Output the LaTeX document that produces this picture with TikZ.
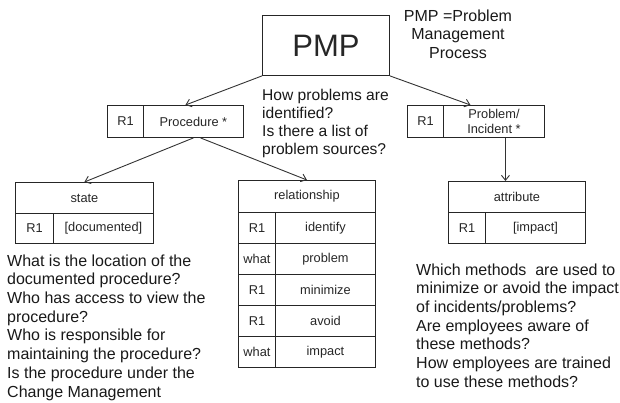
\documentclass[tikz,border=0pt]{standalone}
\usepackage{fontspec}
\setmainfont{Liberation Sans}
\usetikzlibrary{arrows.meta}
\begin{document}
\begin{tikzpicture}[x=1pt,y=-1pt,
  cell/.style={draw=black!85, line width=0.9pt, inner sep=0pt, anchor=north west,
    font=\fontsize{12.8}{15}\selectfont, text=black!85, align=center},
  link/.style={draw=black!80, line width=0.9pt, -{Straight Barb[length=5pt,width=8pt]}},
  note/.style={inner sep=0pt, font=\fontsize{16}{18.7}\selectfont, text=black!90}
]
\useasboundingbox (0,0) rectangle (620,403);

% top process box and its legend
\node[cell, minimum width=127pt, minimum height=60pt, font=\fontsize{31}{33}\selectfont] (pmp) at (262,15) {PMP};
\node[note, anchor=north, align=center, font=\fontsize{16}{18.5}\selectfont] (legend) at (458,9.5)
  {PMP =Problem\\Management\\Process};

% procedure / problem boxes
\node[cell, minimum width=36pt, minimum height=32pt] (procR) at (107,105) {R1};
\node[cell, minimum width=100pt, minimum height=32pt] (procN) at (143,105) {Procedure *};
\node[cell, minimum width=36pt, minimum height=32pt] (probR) at (407,105) {R1};
\node[cell, minimum width=101pt, minimum height=32pt] (probN) at (443,105) {Problem/\\Incident *};

\node[note, anchor=north west, align=left, font=\fontsize{15.6}{18.3}\selectfont] (qproc) at (262,88.5)
  {How problems are\\identified?\\Is there a list of\\problem sources?};

% state table
\node[cell, minimum width=138pt, minimum height=31pt] (stateH) at (15,182) {state};
\node[cell, minimum width=38pt, minimum height=30pt] (stateR) at (15,213) {R1};
\node[cell, minimum width=100pt, minimum height=30pt] (stateV) at (53,213) {[documented]};

% relationship table
\node[cell, minimum width=137pt, minimum height=32pt] (relH) at (238,180) {relationship};
\node[cell, minimum width=37pt, minimum height=31pt] (relR1) at (238,212) {R1};
\node[cell, minimum width=100pt, minimum height=31pt] (relV1) at (275,212) {identify};
\node[cell, minimum width=37pt, minimum height=31pt] (relR2) at (238,243) {what};
\node[cell, minimum width=100pt, minimum height=31pt] (relV2) at (275,243) {problem};
\node[cell, minimum width=37pt, minimum height=31pt] (relR3) at (238,274) {R1};
\node[cell, minimum width=100pt, minimum height=31pt] (relV3) at (275,274) {minimize};
\node[cell, minimum width=37pt, minimum height=31pt] (relR4) at (238,305) {R1};
\node[cell, minimum width=100pt, minimum height=31pt] (relV4) at (275,305) {avoid};
\node[cell, minimum width=37pt, minimum height=31pt] (relR5) at (238,336) {what};
\node[cell, minimum width=100pt, minimum height=31pt] (relV5) at (275,336) {impact};

% attribute table
\node[cell, minimum width=137pt, minimum height=31pt] (attrH) at (448,181) {attribute};
\node[cell, minimum width=37pt, minimum height=31pt] (attrR) at (448,212) {R1};
\node[cell, minimum width=100pt, minimum height=31pt] (attrV) at (485,212) {[impact]};

% questions
\node[note, anchor=north west, align=left] (qstate) at (7,254.4)
  {What is the location of the\\documented procedure?\\Who has access to view the\\procedure?\\Who is responsible for\\maintaining the procedure?\\Is the procedure under the\\Change Management};
\node[note, anchor=north west, align=left] (qattr) at (416,263.4)
  {Which methods\ \ are used to\\minimize or avoid the impact\\of incidents/problems?\\Are employees aware of\\these methods?\\How employees are trained\\to use these methods?};

% connectors
\draw[link] (pmp.south west) -- ([xshift=-8pt]procN.north);
\draw[link] (pmp.south east) -- ([xshift=-23.5pt]probN.north);
\draw[link] (procN.south) -- (stateH.north);
\draw[link] ([xshift=7pt]procN.south) -- (relH.north);
\draw[link] ([xshift=11.5pt]probN.south) -- ([xshift=-11.5pt]attrH.north);
\end{tikzpicture}
\end{document}
